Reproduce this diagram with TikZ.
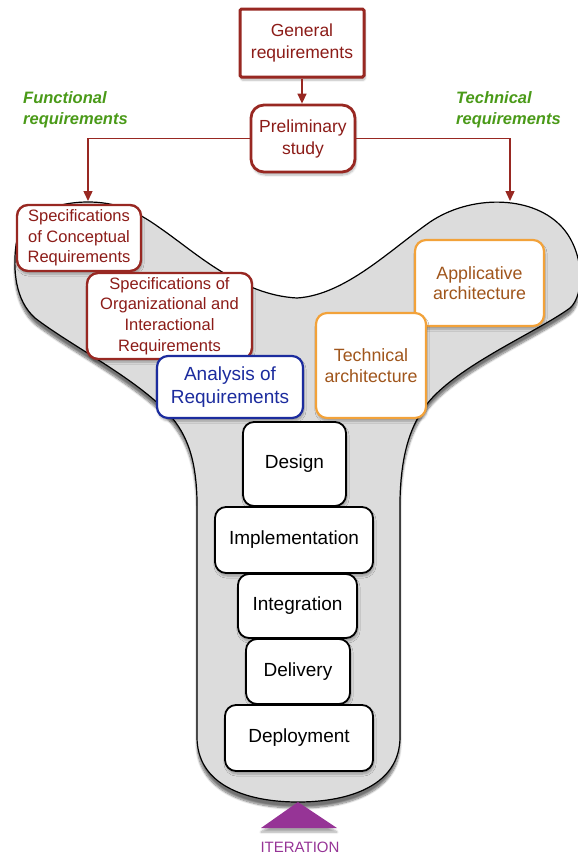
\documentclass[tikz,border=0pt]{standalone}
\usepackage{fontspec}
\setmainfont{Liberation Sans}
\usetikzlibrary{arrows.meta,shadows.blur}
\definecolor{dred}{HTML}{982822}
\definecolor{dredtext}{HTML}{8C1C18}
\definecolor{fgreen}{HTML}{4A9A18}
\definecolor{bblue}{HTML}{1C2C9E}
\definecolor{oborder}{HTML}{F2A23A}
\definecolor{otext}{HTML}{A0561C}
\definecolor{pviolet}{HTML}{963496}
\definecolor{shapegray}{HTML}{DCDCDC}
\begin{document}
\begin{tikzpicture}[x=1pt,y=-1pt,
  boxbase/.style={rectangle, rounded corners=11pt, fill=white, inner sep=0pt, align=center,
    blur shadow={shadow xshift=1pt, shadow yshift=-3pt, shadow blur steps=6, shadow opacity=30}},
  redbox/.style={boxbase, draw=dred, line width=2.4pt, text=dredtext, font=\fontsize{16.5}{20.7}\selectfont},
  bluebox/.style={boxbase, draw=bblue, line width=2.2pt, text=bblue, font=\fontsize{19}{22.7}\selectfont},
  orangebox/.style={boxbase, draw=oborder, line width=2.2pt, text=otext, font=\fontsize{17.8}{20.7}\selectfont},
  stagebox/.style={boxbase, draw=black, line width=1.8pt, text=black, font=\fontsize{19}{22}\selectfont},
  greenlabel/.style={text=fgreen, font=\fontsize{16.5}{21}\selectfont\bfseries\itshape, align=left, inner sep=0pt},
  redline/.style={draw=dred, line width=1.4pt},
  redtip/.style={-{Triangle[length=10pt,width=9pt]}}
]
\useasboundingbox (0,0) rectangle (578,855);

% Y-shaped background
\path[fill=shapegray, draw=black, line width=1.2pt,
  blur shadow={shadow xshift=0pt, shadow yshift=-6pt, shadow blur steps=10, shadow opacity=55}]
 (88,202)
 .. controls (115,202) and (135,210) .. (160,228)
 .. controls (195,252) and (240,295) .. (297,298)
 .. controls (345,295) and (390,250) .. (430,222)
 .. controls (470,195) and (530,195) .. (560,225)
 .. controls (585,250) and (585,295) .. (570,308)
 .. controls (540,330) and (470,360) .. (435,395)
 .. controls (410,420) and (401,455) .. (400,500)
 -- (400,737)
 .. controls (400,785) and (350,802) .. (298,802)
 .. controls (246,802) and (197,785) .. (197,737)
 -- (197,500)
 .. controls (196,455) and (185,430) .. (165,410)
 .. controls (130,375) and (70,345) .. (35,318)
 .. controls (15,300) and (13,270) .. (16,245)
 .. controls (20,215) and (55,202) .. (88,202) -- cycle;

% top nodes
\node[redbox, rounded corners=1.5pt, line width=3pt, font=\fontsize{17.5}{22}\selectfont,
  minimum width=124pt, minimum height=68pt] (gen) at (302,43) {General\\requirements};
\node[redbox, rounded corners=13pt, line width=2.8pt, font=\fontsize{17.5}{22}\selectfont,
  minimum width=104pt, minimum height=67pt] (pre) at (303,138.5) {Preliminary\\study};

\node[greenlabel, anchor=west] (fun) at (23,110) {Functional\\requirements};
\node[greenlabel, anchor=west] (tch) at (456,110) {Technical\\requirements};

\coordinate (fl) at (88,201);
\coordinate (fr) at (510,201);
\draw[redline, redtip] (gen.south) -- (gen.south |- pre.north);
\draw[redline, redtip] (pre.west) -| (fl);
\draw[redline, redtip] (pre.east) -| (fr);

% functional side
\node[redbox, minimum width=124pt, minimum height=66pt] (spc) at (79,238)
  {Specifications\\of Conceptual\\Requirements};
\node[redbox, minimum width=165pt, minimum height=86pt] (spo) at (169.5,316)
  {Specifications of\\Organizational and\\Interactional\\Requirements};
\node[bluebox, minimum width=146pt, minimum height=62pt] (ana) at (230,387)
  {Analysis of\\Requirements};

% technical side
\node[orangebox, minimum width=129pt, minimum height=86pt] (app) at (479.5,283)
  {Applicative\\architecture};
\node[orangebox, minimum width=110pt, minimum height=105pt] (tec) at (371,365.5)
  {Technical\\architecture};

% stages
\node[stagebox, minimum width=103pt, minimum height=84pt] (des) at (294.5,464) {Design};
\node[stagebox, minimum width=158pt, minimum height=66pt] (imp) at (294,540) {Implementation};
\node[stagebox, minimum width=119pt, minimum height=64pt] (int) at (297.5,606) {Integration};
\node[stagebox, minimum width=104pt, minimum height=65pt] (del) at (298,671.5) {Delivery};
\node[stagebox, minimum width=148pt, minimum height=66pt] (dep) at (299,738) {Deployment};

% iteration
\fill[pviolet, blur shadow={shadow xshift=0pt, shadow yshift=-4pt, shadow blur steps=6, shadow opacity=35}]
  (298,802) -- (337,828) -- (261,828) -- cycle;
\node[text=pviolet, font=\fontsize{15}{18}\selectfont, inner sep=0pt] (iter) at (300,847) {ITERATION};
\end{tikzpicture}
\end{document}
